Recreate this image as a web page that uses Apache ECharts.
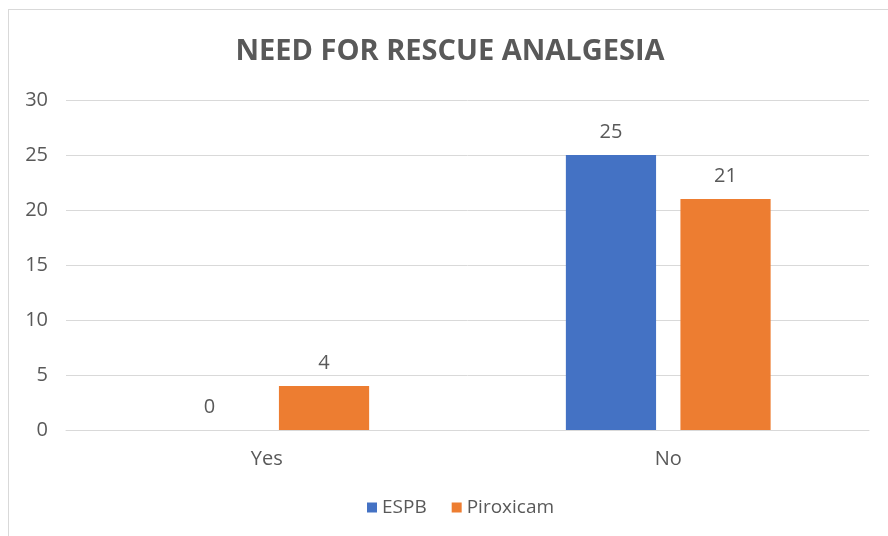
<!DOCTYPE html>
<html>
<head>
<meta charset="utf-8">
<script src="https://cdn.jsdelivr.net/npm/echarts@6/dist/echarts.min.js"></script>
<style>
    html, body { margin: 0; padding: 0; background: #fff; }
    .frame { position: absolute; left: 8px; top: 9px; width: 900px; height: 560px; border: 1px solid #d9d9d9; box-sizing: border-box; }
    #chart { position: absolute; left: 0; top: 0; width: 888px; height: 536px; }
</style>
</head>
<body>
<div class="frame"></div>
<div id="chart"></div>
<script>
    // 数据
    const categories = ['Yes', 'No']
    const espb = [0, 25]
    const piroxicam = [4, 21]
    const yTicks = { min: 0, max: 30, interval: 5 }

    const textColor = '#595959'
    const fontFamily = '"Open Sans", "Noto Sans", sans-serif'

    const labelStyle = {
        show: true,
        position: 'top',
        distance: 13,
        color: textColor,
        fontSize: 20,
        fontFamily: fontFamily
    }

    const option = {
        animation: false,
        title: {
            text: 'NEED FOR RESCUE ANALGESIA',
            left: 445,
            textAlign: 'center',
            top: 32,
            textStyle: {
                color: textColor,
                fontSize: 29,
                fontWeight: 'bold',
                fontFamily: fontFamily
            }
        },
        legend: {
            data: ['ESPB', 'Piroxicam'],
            left: 362,
            bottom: 14,
            itemWidth: 10,
            itemHeight: 10,
            itemGap: 25,
            icon: 'rect',
            textStyle: {
                color: textColor,
                fontSize: 19,
                fontFamily: fontFamily
            }
        },
        grid: {
            left: 66,
            right: 19,
            top: 100,
            bottom: 106
        },
        xAxis: {
            type: 'category',
            data: categories,
            axisTick: { show: false },
            axisLine: { lineStyle: { color: '#d9d9d9' } },
            axisLabel: {
                color: textColor,
                fontSize: 20,
                margin: 19,
                fontFamily: fontFamily
            }
        },
        yAxis: {
            type: 'value',
            min: yTicks.min,
            max: yTicks.max,
            interval: yTicks.interval,
            axisLine: { show: false },
            axisTick: { show: false },
            splitLine: { lineStyle: { color: '#d9d9d9' } },
            axisLabel: {
                color: textColor,
                fontSize: 20,
                margin: 18,
                fontFamily: fontFamily
            }
        },
        series: [
            {
                name: 'ESPB',
                type: 'bar',
                data: espb,
                barGap: '27%',
                barCategoryGap: '49%',
                itemStyle: { color: '#4472C4' },
                label: labelStyle
            },
            {
                name: 'Piroxicam',
                type: 'bar',
                data: piroxicam,
                barGap: '27%',
                barCategoryGap: '49%',
                itemStyle: { color: '#ED7D31' },
                label: labelStyle
            }
        ]
    }

    const chart = echarts.init(document.getElementById('chart'))
    chart.setOption(option)
</script>
</body>
</html>
